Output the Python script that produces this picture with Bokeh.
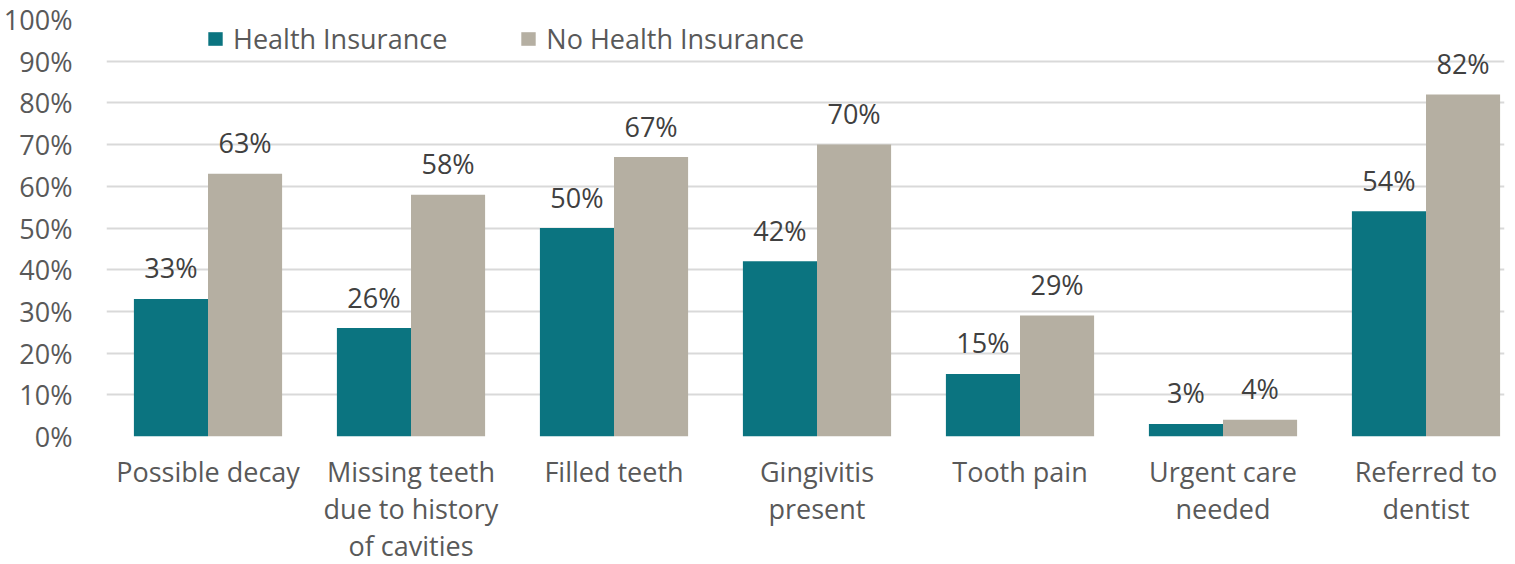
from bokeh.plotting import figure
from bokeh.models import ColumnDataSource, FixedTicker, Legend, LegendItem, Range1d
from bokeh.core.properties import value
from bokeh.embed import file_html
from bokeh.resources import INLINE

categories = ["Possible decay", "Missing teeth\ndue to history\nof cavities", "Filled teeth",
              "Gingivitis\npresent", "Tooth pain", "Urgent care\nneeded", "Referred to\ndentist"]
health_insurance = [33, 26, 50, 42, 15, 3, 54]
no_health_insurance = [63, 58, 67, 70, 29, 4, 82]
y_ticks = [0, 10, 20, 30, 40, 50, 60, 70, 80, 90, 100]

TEAL = "#0B7480"
GRAY = "#B5AFA2"
FONT = "Open Sans"
FS = "27px"

pos = [i + 0.5 for i in range(len(categories))]
w = 0.365
src = ColumnDataSource(dict(
    x_hi=[x - w / 2 for x in pos],
    x_nhi=[x + w / 2 for x in pos],
    hi=health_insurance,
    nhi=no_health_insurance,
    hi_lbl=[f"{v}%" for v in health_insurance],
    nhi_lbl=[f"{v}%" for v in no_health_insurance],
))

p = figure(x_range=Range1d(0, 1398 / 203), y_range=Range1d(0, 100),
           width=1515, height=564, frame_width=1398, frame_height=417,
           output_backend="svg", toolbar_location=None,
           min_border_left=105, min_border_right=12, min_border_top=19, min_border_bottom=128)
p.outline_line_color = None

r1 = p.vbar(x="x_hi", top="hi", width=w, source=src, fill_color=TEAL, line_color=None)
r2 = p.vbar(x="x_nhi", top="nhi", width=w, source=src, fill_color=GRAY, line_color=None)

for xc, col, lbl in (("x_hi", "hi", "hi_lbl"), ("x_nhi", "nhi", "nhi_lbl")):
    p.text(x=xc, y=col, text=lbl, source=src,
           text_align="center", text_baseline="middle", y_offset=-31,
           text_font=value(FONT), text_font_size=FS, text_color="#404040")

p.yaxis.ticker = FixedTicker(ticks=y_ticks)
p.yaxis.major_label_overrides = {t: f"{t}%" for t in y_ticks}
p.ygrid.ticker = FixedTicker(ticks=y_ticks)
p.xaxis.ticker = FixedTicker(ticks=pos)
p.xaxis.major_label_overrides = {x: c for x, c in zip(pos, categories)}
p.xgrid.grid_line_color = None
p.ygrid.grid_line_color = "#D9D9D9"
p.ygrid.grid_line_width = 2

for ax in (p.xaxis[0], p.yaxis[0]):
    ax.axis_line_color = None
    ax.major_tick_line_color = None
    ax.minor_tick_line_color = None
    ax.major_label_text_font = FONT
    ax.major_label_text_font_size = FS
    ax.major_label_text_color = "#595959"

p.yaxis.major_label_standoff = 28
p.xaxis.major_label_standoff = 10
p.xaxis.major_label_text_line_height = 1.0

legend = Legend(items=[LegendItem(label="Health Insurance", renderers=[r1]),
                       LegendItem(label="No Health Insurance", renderers=[r2])],
                orientation="horizontal", location=(100, 379),
                background_fill_alpha=0, border_line_color=None,
                padding=0, margin=0, spacing=72, label_standoff=9,
                glyph_width=18, glyph_height=17,
                label_text_font=FONT, label_text_font_size=FS, label_text_color="#595959")
p.add_layout(legend)

open("out.html", "w").write(file_html(p, INLINE))
